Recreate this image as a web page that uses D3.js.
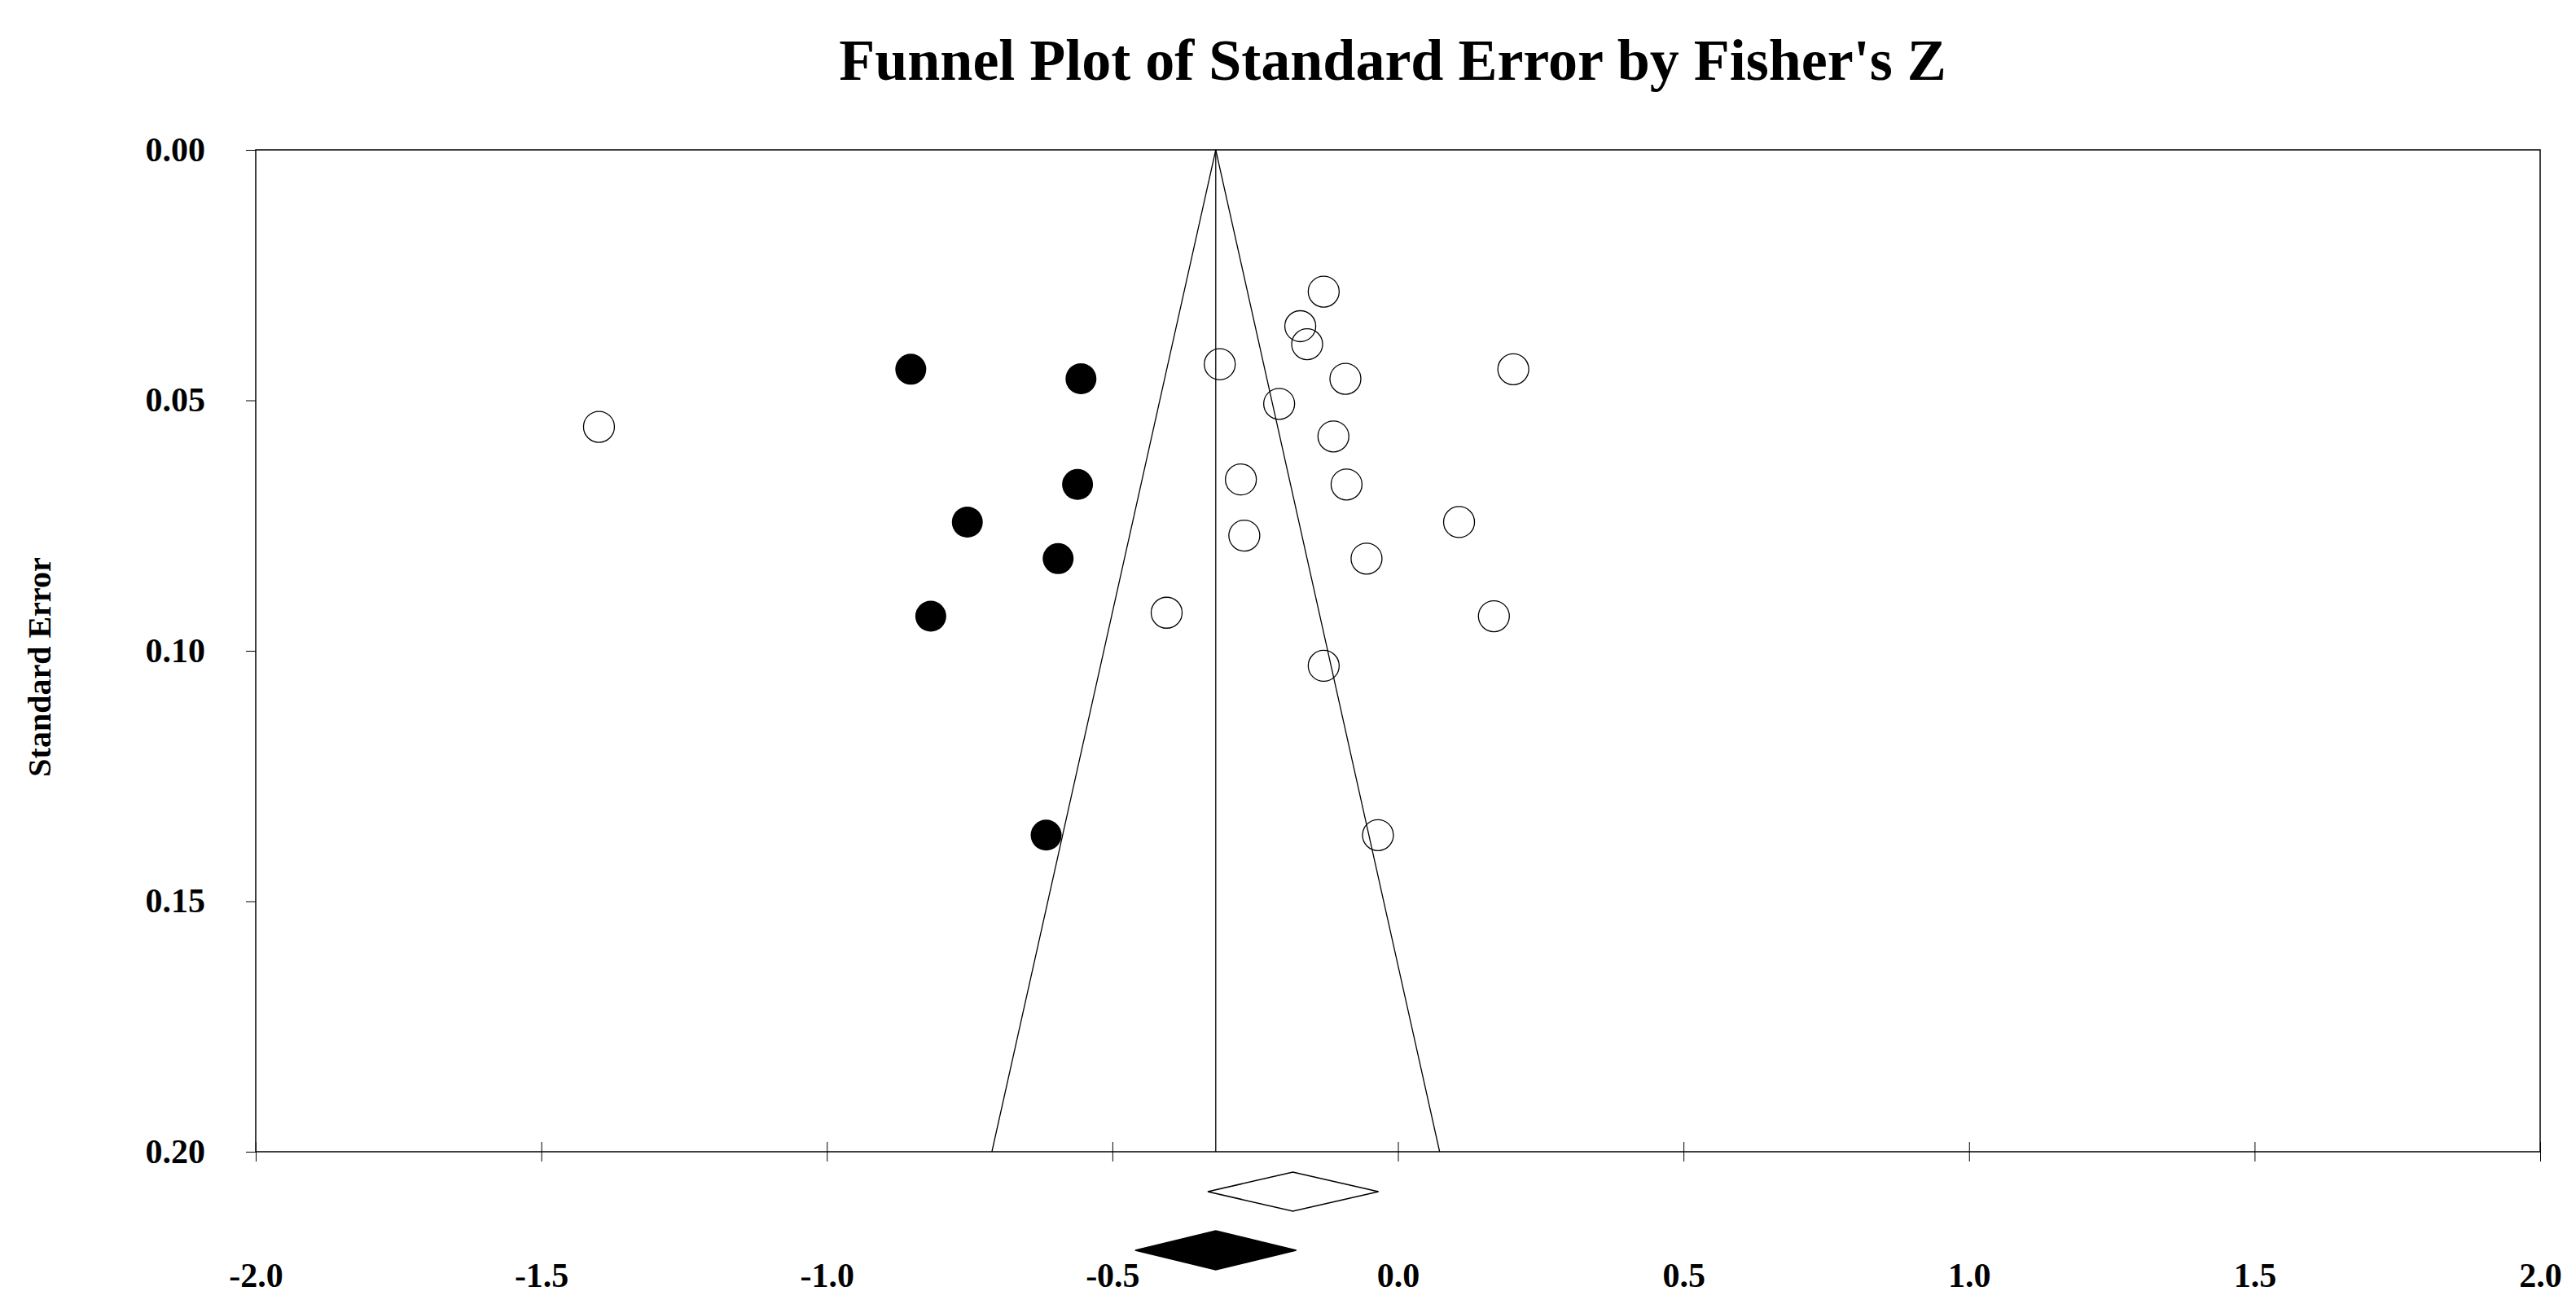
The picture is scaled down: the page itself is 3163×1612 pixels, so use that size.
<!DOCTYPE html>
<html><head><meta charset="utf-8">
<script src="https://cdn.jsdelivr.net/npm/d3@7"></script>
<style>body{margin:0;background:#fff}text{font-family:"Liberation Serif","DejaVu Serif",serif;font-weight:bold}</style>
</head><body><div id="chart"></div>
<script>
const observedZ = [-1.399,-0.130,-0.171,-0.159,-0.312,-0.092,0.202,-0.208,-0.113,-0.275,-0.090,0.107,-0.269,-0.055,-0.405,0.168,-0.130,-0.035]
const observedSE = [0.0553,0.0283,0.0352,0.0388,0.0428,0.0457,0.0438,0.0507,0.0572,0.0658,0.0668,0.0743,0.0770,0.0816,0.0924,0.0931,0.1030,0.1368]
const imputedZ = [-0.853,-0.555,-0.561,-0.754,-0.595,-0.818,-0.616]
const imputedSE = [0.0438,0.0457,0.0668,0.0743,0.0816,0.0931,0.1368]
const xTicks = [-2.0,-1.5,-1.0,-0.5,0.0,0.5,1.0,1.5,2.0]
const yTicks = [0.00,0.05,0.10,0.15,0.20]
const observedEffect = {est:-0.184, lo:-0.333, hi:-0.034}
const adjustedEffect = {est:-0.319, lo:-0.460, hi:-0.178}

const W = 3163, H = 1612
const m = {top:184, left:314, right:44, bottom:198}
const svg = d3.select('#chart').append('svg').attr('width', W).attr('height', H)
const x = d3.scaleLinear().domain([-2, 2]).range([m.left, W - m.right])
const y = d3.scaleLinear().domain([0, 0.2]).range([m.top, H - m.bottom])
const hy = f => v => d3.format(f)(v).replace('\u2212', '-')

svg.append('text').attr('x', 1710).attr('y', 98).attr('text-anchor', 'middle')
  .attr('font-size', 72).text("Funnel Plot of Standard Error by Fisher's Z")

svg.append('rect').attr('x', x(-2)).attr('y', y(0)).attr('width', x(2) - x(-2)).attr('height', y(0.2) - y(0))
  .attr('fill', 'none').attr('stroke', '#000').attr('stroke-width', 1.5)

// y axis
const ya = svg.append('g').attr('transform', `translate(${x(-2)},0)`)
  .call(d3.axisLeft(y).tickValues(yTicks).tickFormat(hy('.2f')).tickSize(12).tickPadding(50))
ya.select('.domain').remove()
ya.selectAll('text').attr('font-size', 42).attr('font-family', '"Liberation Serif",serif').attr('font-weight', 'bold')

// x axis ticks crossing the bottom line, labels below diamonds
const xa = svg.append('g').attr('transform', `translate(0,${y(0.2)})`)
  .call(d3.axisBottom(x).tickValues(xTicks).tickFormat(hy('.1f')).tickSize(12).tickPadding(124))
xa.select('.domain').remove()
xa.selectAll('line').attr('y1', -12)
xa.selectAll('text').attr('font-size', 42).attr('font-family', '"Liberation Serif",serif').attr('font-weight', 'bold')

svg.append('text').attr('transform', `translate(62,${y(0.1) + 20}) rotate(-90)`).attr('text-anchor', 'middle')
  .attr('font-size', 40).text('Standard Error')

// funnel
const c = adjustedEffect.est
svg.append('path').attr('fill', 'none').attr('stroke', '#000').attr('stroke-width', 1.3)
  .attr('d', d3.line()([[x(c - 1.96 * 0.2), y(0.2)], [x(c), y(0)], [x(c + 1.96 * 0.2), y(0.2)]]))
svg.append('line').attr('x1', x(c)).attr('x2', x(c)).attr('y1', y(0)).attr('y2', y(0.2)).attr('stroke', '#000').attr('stroke-width', 1.3)

const diamond = (e, cy, fill) => svg.append('path')
  .attr('d', d3.line()([[x(e.lo), cy], [x(e.est), cy - 24], [x(e.hi), cy], [x(e.est), cy + 24]]) + 'Z')
  .attr('fill', fill).attr('stroke', '#000').attr('stroke-width', 1.5)
diamond(observedEffect, y(0.2) + 49, '#fff')
diamond(adjustedEffect, y(0.2) + 121, '#000')

svg.selectAll('.obs').data(observedZ).enter().append('circle')
  .attr('cx', d => x(d)).attr('cy', (d, i) => y(observedSE[i])).attr('r', 19)
  .attr('fill', 'none').attr('stroke', '#000').attr('stroke-width', 1.3)
svg.selectAll('.imp').data(imputedZ).enter().append('circle')
  .attr('cx', d => x(d)).attr('cy', (d, i) => y(imputedSE[i])).attr('r', 19)
  .attr('fill', '#000')
</script></body></html>
